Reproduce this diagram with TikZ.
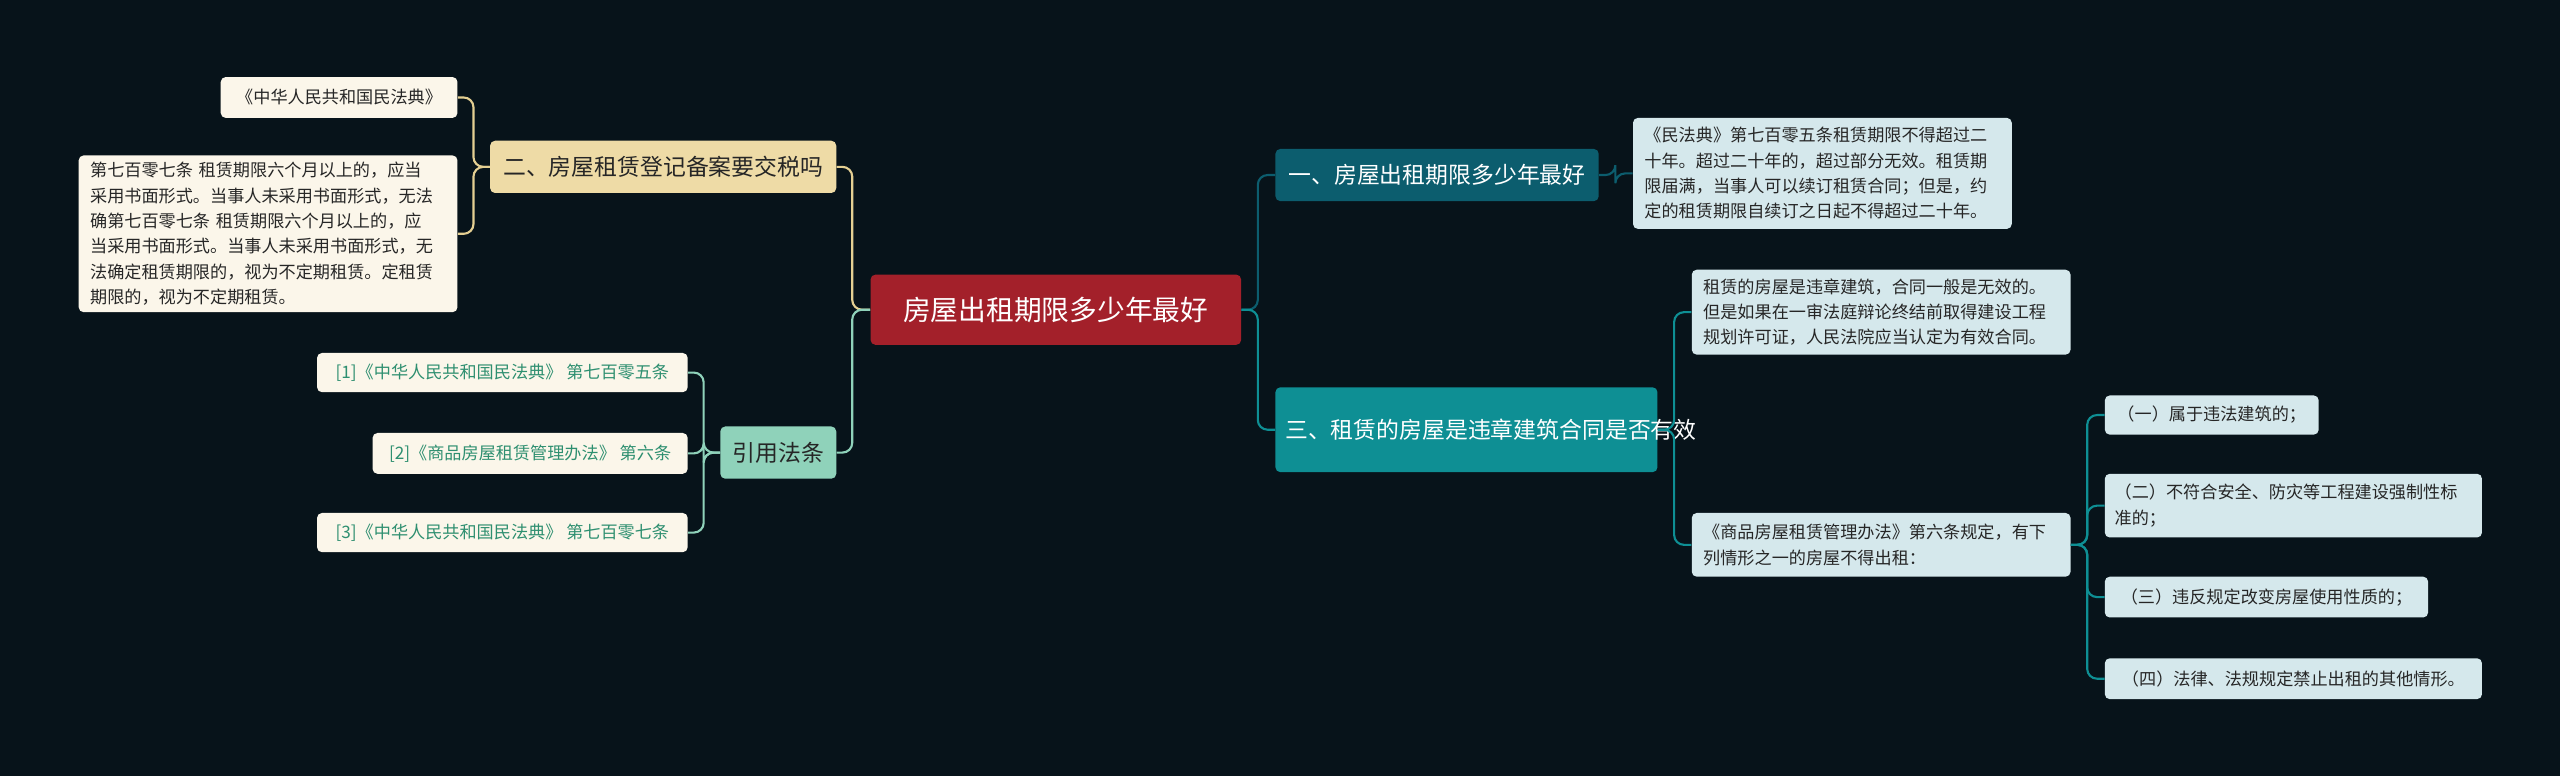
\documentclass[tikz,border=0pt]{standalone}
\usepackage{fontspec}
\setmainfont{Noto Sans CJK SC}
\definecolor{bg}{HTML}{07131A}
\definecolor{rootc}{HTML}{A3202A}
\definecolor{tan}{HTML}{EEDBA6}
\definecolor{tanl}{HTML}{E4CF92}
\definecolor{cream}{HTML}{FBF6EA}
\definecolor{mint}{HTML}{8FD2BA}
\definecolor{refg}{HTML}{2E8F70}
\definecolor{tdark}{HTML}{0C5D6E}
\definecolor{teal}{HTML}{0E8F94}
\definecolor{lblue}{HTML}{D5E8EC}
\tikzset{
 bx/.style={rounded corners=3pt, inner sep=0pt, align=left, anchor=north west},
 small/.style={bx, font=\fontsize{10.5}{15.5}\selectfont, text=black!85},
 ln/.style={line width=1.3pt, rounded corners=6pt},
}
\begin{document}
\begin{tikzpicture}[x=1pt,y=-1pt]
\fill[bg] (0,0) rectangle (1568,475);
\useasboundingbox (0,0) rectangle (1568,475);
% root
\node[bx, fill=rootc, text=white, minimum width=227, minimum height=43, align=center, font=\fontsize{17}{20}\selectfont] (root) at (533,168) {房屋出租期限多少年最好};
% left
\node[bx, fill=tan, text=black!85, minimum width=212, minimum height=32, align=center, font=\fontsize{14}{17}\selectfont] (b2) at (300,86) {二、房屋租赁登记备案要交税吗};
\node[small, fill=cream, minimum width=145, minimum height=25, align=center] (c21) at (135,47) {《中华人民共和国民法典》};
\node[small, fill=cream, minimum width=232, minimum height=96, text width=218, inner xsep=7pt] (c22) at (48,95) {第七百零七条 租赁期限六个月以上的，应当\\采用书面形式。当事人未采用书面形式，无法\\确第七百零七条 租赁期限六个月以上的，应\\当采用书面形式。当事人未采用书面形式，无\\法确定租赁期限的，视为不定期租赁。定租赁\\期限的，视为不定期租赁。};
\node[bx, fill=mint, text=black!85, minimum width=71, minimum height=32, align=center, font=\fontsize{14}{17}\selectfont] (b4) at (441,261) {引用法条};
\node[small, fill=cream, text=refg, minimum width=227, minimum height=24, align=center] (r1) at (194,216) {[1]《中华人民共和国民法典》 第七百零五条};
\node[small, fill=cream, text=refg, minimum width=193, minimum height=25, align=center] (r2) at (228,265) {[2]《商品房屋租赁管理办法》 第六条};
\node[small, fill=cream, text=refg, minimum width=227, minimum height=24, align=center] (r3) at (194,314) {[3]《中华人民共和国民法典》 第七百零七条};
% right
\node[bx, fill=tdark, text=white, minimum width=198, minimum height=32, align=center, font=\fontsize{14}{17}\selectfont] (b1) at (781,91) {一、房屋出租期限多少年最好};
\node[small, fill=lblue, minimum width=232, minimum height=68, text width=218, inner xsep=7pt] (c11) at (1000,72) {《民法典》第七百零五条租赁期限不得超过二\\十年。超过二十年的，超过部分无效。租赁期\\限届满，当事人可以续订租赁合同；但是，约\\定的租赁期限自续订之日起不得超过二十年。};
\node[bx, fill=teal, text=white, minimum width=234, minimum height=52, text width=222, inner xsep=6pt, font=\fontsize{14}{19}\selectfont] (b3) at (781,237) {三、租赁的房屋是违章建筑合同是否有效};
\node[small, fill=lblue, minimum width=232, minimum height=52, text width=218, inner xsep=7pt] (c31) at (1036,165) {租赁的房屋是违章建筑，合同一般是无效的。\\但是如果在一审法庭辩论终结前取得建设工程\\规划许可证，人民法院应当认定为有效合同。};
\node[small, fill=lblue, minimum width=232, minimum height=39, text width=218, inner xsep=7pt] (c32) at (1036,314) {《商品房屋租赁管理办法》第六条规定，有下\\列情形之一的房屋不得出租：};
\node[small, fill=lblue, minimum width=131, minimum height=24, align=center] (d1) at (1289,242) {（一）属于违法建筑的；};
\node[small, fill=lblue, minimum width=231, minimum height=39, text width=219, inner xsep=6pt] (d2) at (1289,290) {（二）不符合安全、防灾等工程建设强制性标\\准的；};
\node[small, fill=lblue, minimum width=198, minimum height=25, align=center] (d3) at (1289,353) {（三）违反规定改变房屋使用性质的；};
\node[small, fill=lblue, minimum width=231, minimum height=25, align=center] (d4) at (1289,403) {（四）法律、法规规定禁止出租的其他情形。};
% connectors
\draw[ln, tanl] (root.west) -- ++(-11,0) |- (b2.east);
\draw[ln, mint] (root.west) -- ++(-11,0) |- (b4.east);
\draw[ln, tanl] (b2.west) -- ++(-10,0) |- (c21.east);
\draw[ln, tanl] (b2.west) -- ++(-10,0) |- (c22.east);
\foreach \r in {r1,r2,r3} \draw[ln, mint] (b4.west) -- ++(-10,0) |- (\r.east);
\draw[ln, tdark] (root.east) -- ++(10,0) |- (b1.west);
\draw[ln, teal] (root.east) -- ++(10,0) |- (b3.west);
\draw[ln, tdark] (b1.east) -- ++(10,0) |- (c11.west);
\draw[ln, teal] (b3.east) -- ++(10,0) |- (c31.west);
\draw[ln, teal] (b3.east) -- ++(10,0) |- (c32.west);
\foreach \d in {d1,d2,d3,d4} \draw[ln, teal] (c32.east) -- ++(10,0) |- (\d.west);
\end{tikzpicture}
\end{document}
